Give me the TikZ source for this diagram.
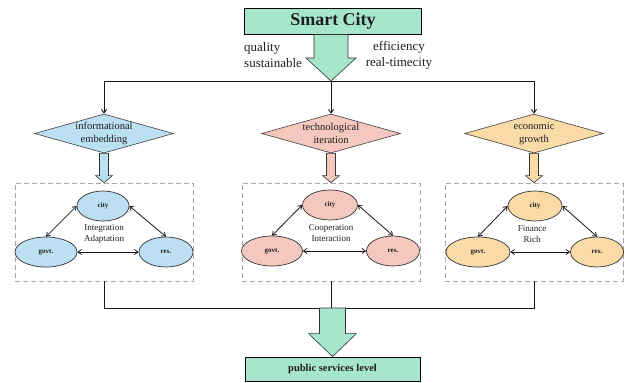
\documentclass[tikz,border=0pt]{standalone}
\usepackage{fontspec}
\setmainfont{Liberation Serif}
\usetikzlibrary{shapes.geometric,calc,arrows.meta}
\definecolor{mint}{RGB}{166,230,205}
\definecolor{sky}{RGB}{188,224,242}
\definecolor{rose}{RGB}{244,200,190}
\definecolor{peach}{RGB}{250,219,168}
\newcommand\fatarrow[6]{%
  \filldraw[fatbody, fill=#1] let \p1=(#2), \p2=(#3) in
  (\x2-#4pt,\y1) -- (\x2-#4pt,\y2+#6pt) -- (\x2-#5pt,\y2+#6pt) -- (\x2,\y2)
  -- (\x2+#5pt,\y2+#6pt) -- (\x2+#4pt,\y2+#6pt) -- (\x2+#4pt,\y1) -- cycle;}
\begin{document}
\begin{tikzpicture}[x=1pt,y=-1pt,
  every node/.style={text=black!88},
  titlebox/.style={draw=black, line width=0.9pt, fill=mint, minimum width=177pt, minimum height=26pt, inner sep=0pt},
  fatbody/.style={draw=black!80, line width=0.6pt},
  diam/.style={diamond, draw=black!75, line width=0.6pt, minimum width=139pt, minimum height=39pt, inner sep=0pt},
  dtext/.style={font=\fontsize{10.5}{13}\selectfont, align=center, inner sep=0pt},
  dbox/.style={draw=black!35, dashed, dash pattern=on 5pt off 3pt, line width=0.8pt, minimum width=178pt, minimum height=98pt, inner sep=0pt},
  ell/.style={ellipse, draw=black!80, line width=0.7pt, minimum height=30pt, inner sep=0pt, font=\bfseries\fontsize{7}{8}\selectfont},
  mid/.style={font=\fontsize{9}{10.5}\selectfont, align=center, inner sep=0pt},
  conn/.style={line width=0.9pt, draw=black!90},
  link/.style={line width=0.8pt, draw=black!90, {Straight Barb[length=3.5pt,width=5pt]}-{Straight Barb[length=3.5pt,width=5pt]}},
  down/.style={line width=0.9pt, draw=black!90, -{Straight Barb[length=3.5pt,width=5pt]}},
  side/.style={font=\fontsize{13}{16}\selectfont, inner sep=0pt}
]
\useasboundingbox (0,0) rectangle (627,383);

% title
\node[titlebox, font=\bfseries\fontsize{18}{20}\selectfont] (sc) at (333,21) {Smart City};
\node[side, align=left, anchor=west] (ql) at (244,55) {quality\\sustainable};
\node[side, align=center] (ef) at (399,55) {efficiency\\real-timecity};

\coordinate (j0) at (331,81);
\coordinate (jl) at (104,81);
\coordinate (jr) at (534,81);
\fatarrow{mint}{sc.south}{j0}{17}{25}{23}
\draw[conn] (jl) -- (jr);

% diamonds
\node[diam, fill=sky] (d1) at (104,133.5) {};
\node[dtext] (t1) at (d1) {informational\\embedding};
\node[diam, fill=rose] (d2) at (331,133.5) {};
\node[dtext] (t2) at (d2) {technological\\iteration};
\node[diam, fill=peach] (d3) at (534,133.5) {};
\node[dtext] (t3) at (d3) {economic\\growth};
\draw[down] (jl) -- (d1.north);
\draw[down] (j0) -- (d2.north);
\draw[down] (jr) -- (d3.north);

% dashed boxes
\node[dbox] (b1) at (104,232) {};
\node[dbox] (b2) at (331,232) {};
\node[dbox] (b3) at (534,232) {};
\fatarrow{sky}{d1.south}{b1.north}{4.5}{8.5}{7}
\fatarrow{rose}{d2.south}{b2.north}{4.5}{8.5}{7}
\fatarrow{peach}{d3.south}{b3.north}{4.5}{8.5}{7}

% left triad
\node[ell, fill=sky, minimum width=52pt] (c1) at (103,206) {city};
\node[ell, fill=sky, minimum width=62pt] (g1) at (46,252) {govt.};
\node[ell, fill=sky, minimum width=54pt] (r1) at (166,252) {res.};
\node[mid] (m1) at (104,234) {Integration\\Adaptation};
\draw[link] (c1.west) -- (g1.north);
\draw[link] (c1.east) -- (r1.north);
\draw[link] (g1.east) -- (r1.west);

% middle triad
\node[ell, fill=rose, minimum width=55pt] (c2) at (330,205) {city};
\node[ell, fill=rose, minimum width=61pt] (g2) at (272,251) {govt.};
\node[ell, fill=rose, minimum width=53pt] (r2) at (393,251) {res.};
\node[mid] (m2) at (331,233) {Cooperation\\Interaction};
\draw[link] (c2.west) -- (g2.north);
\draw[link] (c2.east) -- (r2.north);
\draw[link] (g2.east) -- (r2.west);

% right triad
\node[ell, fill=peach, minimum width=54pt] (c3) at (535,206) {city};
\node[ell, fill=peach, minimum width=64pt] (g3) at (478,252) {govt.};
\node[ell, fill=peach, minimum width=53pt] (r3) at (597,252) {res.};
\node[mid] (m3) at (532,234) {Finance\\Rich};
\draw[link] (c3.west) -- (g3.north);
\draw[link] (c3.east) -- (r3.north);
\draw[link] (g3.east) -- (r3.west);

% bottom
\coordinate (bl) at (104,308);
\coordinate (bm) at (331,308);
\coordinate (br) at (534,308);
\draw[conn] (b1.south) -- (bl) -- (br) -- (b3.south);
\draw[conn] (b2.south) -- (bm);
\node[titlebox, minimum width=175pt, minimum height=24pt, font=\bfseries\fontsize{10.5}{12}\selectfont] (pl) at (332.5,369) {public services level};
\fatarrow{mint}{bm}{pl.north}{13}{24}{23}
\end{tikzpicture}
\end{document}
